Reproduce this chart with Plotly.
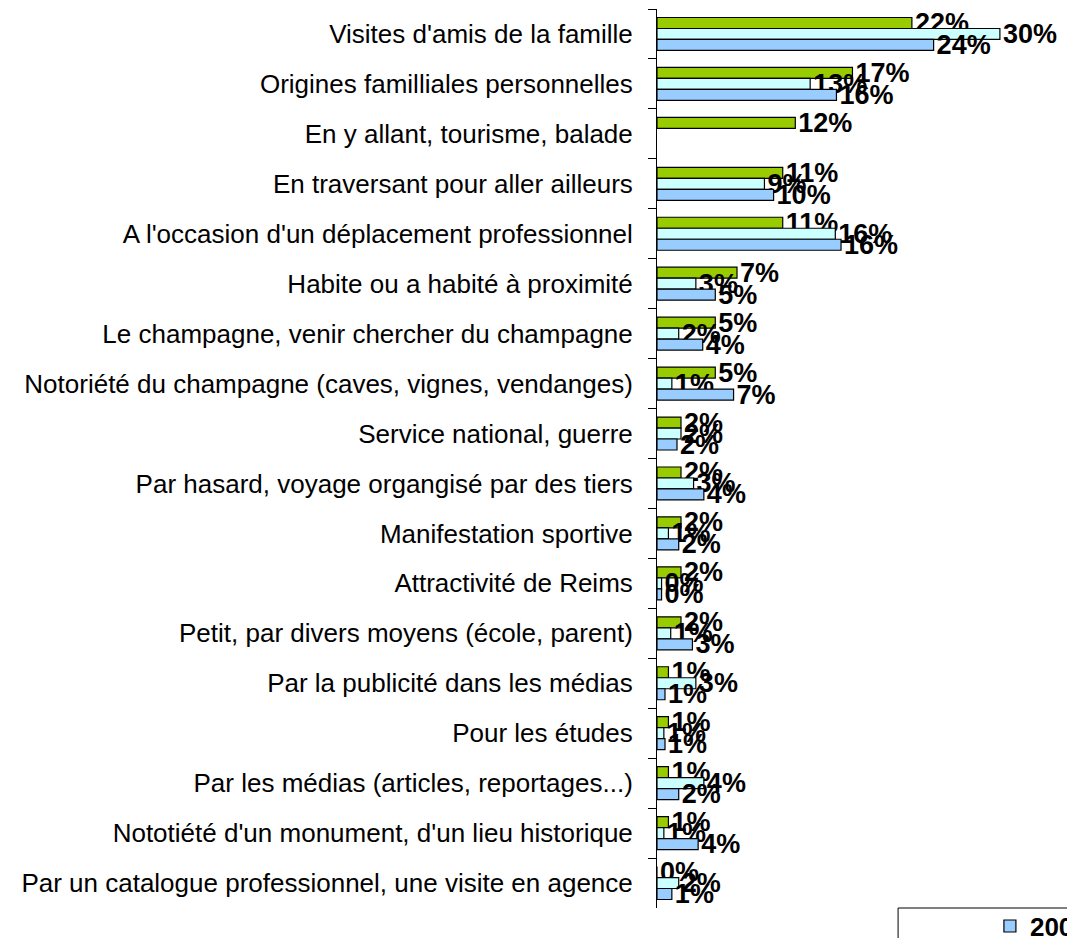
import plotly.graph_objects as go

categories = [
    "Visites d'amis de la famille",
    "Origines familliales personnelles",
    "En y allant, tourisme, balade",
    "En traversant pour aller ailleurs",
    "A l'occasion d'un déplacement professionnel",
    "Habite ou a habité à proximité",
    "Le champagne, venir chercher du champagne",
    "Notoriété du champagne (caves, vignes, vendanges)",
    "Service national, guerre",
    "Par hasard, voyage organgisé par des tiers",
    "Manifestation sportive",
    "Attractivité de Reims",
    "Petit, par divers moyens (école, parent)",
    "Par la publicité dans les médias",
    "Pour les études",
    "Par les médias (articles, reportages...)",
    "Nototiété d'un monument, d'un lieu historique",
    "Par un catalogue professionnel, une visite en agence",
]

series_names = ["2005", "2007", "2009"]

values_blue = [24.2, 15.7, None, 10.2, 16.1, 5.1, 4.0, 6.7, 1.75, 4.1, 1.9, 0.4, 3.1, 0.7, 0.7, 1.9, 3.6, 1.3]
values_cyan = [30.0, 13.4, None, 9.4, 15.6, 3.4, 1.9, 1.3, 2.1, 3.2, 1.0, 0.4, 1.2, 3.4, 0.6, 4.1, 0.6, 1.9]
values_green = [22.3, 17.1, 12.1, 11.0, 11.0, 7.0, 5.1, 5.1, 2.1, 2.1, 2.1, 2.1, 2.1, 1.0, 1.0, 1.0, 1.0, 0.0]

colors = {"blue": "#99CCFF", "cyan": "#CCFFFF", "green": "#99CC00"}

FONT = "Liberation Sans, Arial, sans-serif"

fig = go.Figure()
for name, vals, col in [
    (series_names[2], values_green, colors["green"]),
    (series_names[1], values_cyan, colors["cyan"]),
    (series_names[0], values_blue, colors["blue"]),
]:
    fig.add_trace(go.Bar(
        y=categories,
        x=vals,
        name=name,
        orientation="h",
        marker=dict(color=col, line=dict(color="black", width=1.2)),
        texttemplate="%{x:.0f}%",
        textposition="outside",
        constraintext="none",
        cliponaxis=False,
        textfont=dict(family=FONT, size=27, color="black", weight="bold"),
    ))

fig.update_layout(
    width=1067,
    height=938,
    barmode="group",
    bargap=0.34,
    bargroupgap=0,
    paper_bgcolor="white",
    plot_bgcolor="white",
    font=dict(family=FONT, color="black"),
    margin=dict(l=657, r=0, t=9, b=30, autoexpand=False),
    showlegend=True,
    legend=dict(
        orientation="h",
        traceorder="reversed",
        x=0.812, xanchor="left",
        y=0.006, yanchor="top",
        bgcolor="rgba(0,0,0,0)",
        borderwidth=0,
        font=dict(family=FONT, size=26, color="black", weight="bold"),
    ),
    xaxis=dict(visible=False, range=[0, 35.87], fixedrange=True),
    yaxis=dict(
        autorange="reversed",
        tickson="boundaries",
        ticks="outside",
        ticklen=8,
        tickcolor="black",
        showline=True,
        linecolor="black",
        linewidth=1,
        showgrid=False,
        tickfont=dict(family=FONT, size=26, color="black"),
        ticklabelstandoff=18,
        fixedrange=True,
    ),
    shapes=[
        dict(type="rect", xref="paper", yref="paper",
             x0=0.588, x1=1.6, y0=-0.2, y1=0,
             line=dict(color="black", width=1), fillcolor="rgba(0,0,0,0)", layer="below"),
    ],
)

fig.write_html("out.html", post_script="document.body.style.margin='0';",
               config={"displayModeBar": False})
